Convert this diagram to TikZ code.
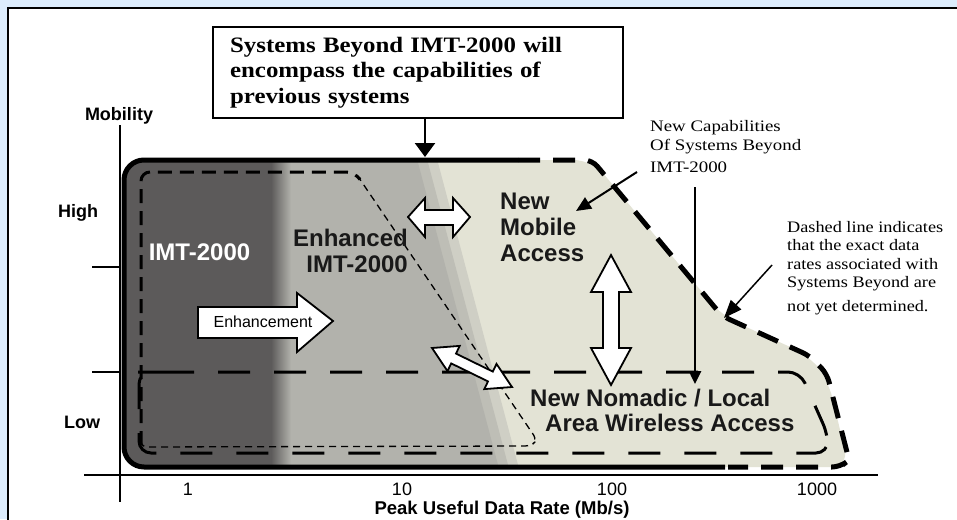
\documentclass[tikz,border=0pt]{standalone}
\usepackage{fontspec}
\setmainfont{Liberation Serif}
\setsansfont{Liberation Sans}
\newfontfamily\boxfont[FakeStretch=1.13]{Liberation Serif}
\newfontfamily\capfont[FakeStretch=1.18]{Liberation Serif}
\newfontfamily\dashfont[FakeStretch=1.14]{Liberation Serif}
\usetikzlibrary{arrows.meta}
\definecolor{bgblue}{RGB}{220,236,252}
\definecolor{darkfill}{RGB}{92,90,90}
\definecolor{midfill}{RGB}{178,178,172}
\definecolor{beigefill}{RGB}{227,227,213}
\definecolor{labeldark}{RGB}{25,25,25}
\begin{document}
\begin{tikzpicture}[x=1pt,y=-1pt,
  sanslab/.style={font=\sffamily\bfseries\fontsize{24}{26}\selectfont, inner sep=0pt, text=labeldark},
  axislab/.style={font=\sffamily\bfseries\fontsize{18}{20}\selectfont, inner sep=0pt},
  ticklab/.style={font=\sffamily\fontsize{18}{20}\selectfont, inner sep=0pt},
  blockarrow/.style={draw=black, fill=white, line width=1.8pt, line join=miter},
  pointer/.style={draw=black, -{Triangle[length=13pt,width=12pt]}},
  axisline/.style={line width=2.5pt},
  outerline/.style={line width=5pt},
  ]
\useasboundingbox (0,0) rectangle (957,519);
\clip (0,0) rectangle (957,519);
\fill[bgblue] (0,0) rectangle (957,519);
\draw[fill=white, line width=1.6pt] (8,8) rectangle (975,535);

% region fills
\begin{scope}
\clip[rounded corners=18pt] (124,467) -- (124,160) -- (592,160) -- (722,316) -- (810,356) -- (828,380) -- (849,467) -- cycle;
\fill[beigefill] (100,140) rectangle (900,480);
\fill[midfill!40!beigefill] (100,140) -- (432,140) -- (522,480) -- (100,480) -- cycle;
\fill[midfill!75!beigefill] (100,140) -- (422,140) -- (512,480) -- (100,480) -- cycle;
\fill[midfill] (100,140) -- (412,140) -- (502,480) -- (100,480) -- cycle;
\fill[darkfill] (100,140) rectangle (272,480);
\shade[left color=darkfill, right color=midfill] (271,140) rectangle (291,480);
\end{scope}

% enhanced IMT-2000 region
\draw[line width=3pt, dash pattern=on 14pt off 8pt, rounded corners=9pt] (141,445) -- (141,172) -- (355,172) -- (359,178);
\draw[line width=1.3pt, dash pattern=on 7pt off 5pt, rounded corners=6pt] (357,175) -- (537,440) -- (531,446) -- (141,447) -- (141,438);

% nomadic region
\draw[line width=3pt, dash pattern=on 32pt off 24pt, rounded corners=12pt] (150,372) -- (800,372) -- (828,435) -- (828,453) -- (139,453) -- (139,372) -- cycle;

% outer outline
\draw[outerline, rounded corners=20pt] (725,467) -- (124,467) -- (124,160) -- (518,160);
\draw[outerline, dash pattern=on 22pt off 13pt, rounded corners=8pt] (518,160) -- (592,160) -- (722,316) -- (810,356) -- (827,374) -- (849,460) -- (840,467) -- (728,467);

% axes
\draw[axisline] (120,125) -- (120,502);
\draw[axisline] (84,475) -- (878,475);
\draw[axisline] (92,267) -- (120,267);
\draw[axisline] (92,372) -- (120,372);

% block arrows
\draw[blockarrow] (408,217) -- (425,198) -- (425,210) -- (453,210) -- (453,198) -- (470,217) -- (453,237) -- (453,225) -- (425,225) -- (425,237) -- cycle;
\draw[blockarrow] (611,255) -- (631,292) -- (619,292) -- (619,348) -- (631,348) -- (611,385) -- (591,348) -- (603,348) -- (603,292) -- (591,292) -- cycle;
\draw[blockarrow] (432,348) -- (459.7,345.9) -- (456.0,353.6) -- (492.8,371.6) -- (496.5,363.9) -- (512,387) -- (484.3,389.1) -- (488.0,381.4) -- (451.2,363.4) -- (447.5,371.1) -- cycle;
\draw[blockarrow] (198,307) -- (297,307) -- (297,293) -- (333,321) -- (297,352) -- (297,338) -- (198,338) -- cycle;

% top box
\node[draw, line width=2.2pt, anchor=north west, minimum width=410pt, minimum height=91pt,
      text width=376pt, inner xsep=17pt, inner ysep=0pt, align=left,
      font=\boxfont\bfseries\fontsize{22}{25.5}\selectfont] (box) at (212,26)
  {Systems Beyond IMT-2000 will\\encompass the capabilities of\\previous systems};
\coordinate (boxtip) at (425,157);
\draw[pointer, line width=2.5pt, -{Triangle[length=14pt,width=20pt]}] (box.south -| boxtip) -- (boxtip);

% axis labels
\node[axislab, anchor=base] (mobility) at (119,120) {Mobility};
\node[axislab, anchor=base] (high) at (78,217) {High};
\node[axislab, anchor=base] (low) at (82,428) {Low};
\node[ticklab, anchor=base] (t1) at (188,495) {1};
\node[ticklab, anchor=base] (t10) at (402,495) {10};
\node[ticklab, anchor=base] (t100) at (612,495) {100};
\node[ticklab, anchor=base] (t1000) at (817,495) {1000};
\node[font=\sffamily\bfseries\fontsize{18.5}{20}\selectfont, inner sep=0pt, anchor=base] (xlabel) at (502,514) {Peak Useful Data Rate (Mb/s)};

% region labels
\node[sanslab, text=white, anchor=base] (imt) at (199.5,260) {IMT-2000};
\node[sanslab, align=right, anchor=south east] (enh) at (408,273) {Enhanced\\IMT-2000};
\node[sanslab, align=left, anchor=south west] (mobile) at (500,262) {New\\Mobile\\Access};
\node[sanslab, align=left, anchor=south west, font=\sffamily\bfseries\fontsize{24}{25}\selectfont] (nomadic) at (530,432) {New Nomadic / Local\\\hspace*{15pt}Area Wireless Access};
\node[font=\sffamily\fontsize{16}{18}\selectfont, inner sep=0pt, anchor=base] (enhtext) at (263,327) {Enhancement};

% notes
\node[font=\capfont\fontsize{16}{19}\selectfont, inner sep=0pt, align=left, anchor=south west] (capnote) at (650,173)
  {New Capabilities\\Of Systems Beyond\\[3pt]IMT-2000};
\node[font=\dashfont\fontsize{16}{18.5}\selectfont, inner sep=0pt, align=left, anchor=north west] (dashnote) at (787,221)
  {Dashed line indicates\\that the exact data\\rates associated with\\Systems Beyond are\\[5pt]not yet determined.};

% pointers
\coordinate (capstart) at (637,172);
\coordinate (captip) at (576,211);
\draw[pointer, line width=2pt, -{Triangle[length=15pt,width=13pt]}] (capstart) -- (captip);
\coordinate (vstart) at (695,187);
\coordinate (vtip) at (695,384);
\draw[pointer, line width=2.5pt] (vstart) -- (vtip);
\coordinate (dstart) at (772,265);
\coordinate (dtip) at (724,318);
\draw[pointer, line width=1.5pt, -{Triangle[length=18pt,width=14pt]}] (dstart) -- (dtip);
\end{tikzpicture}
\end{document}
